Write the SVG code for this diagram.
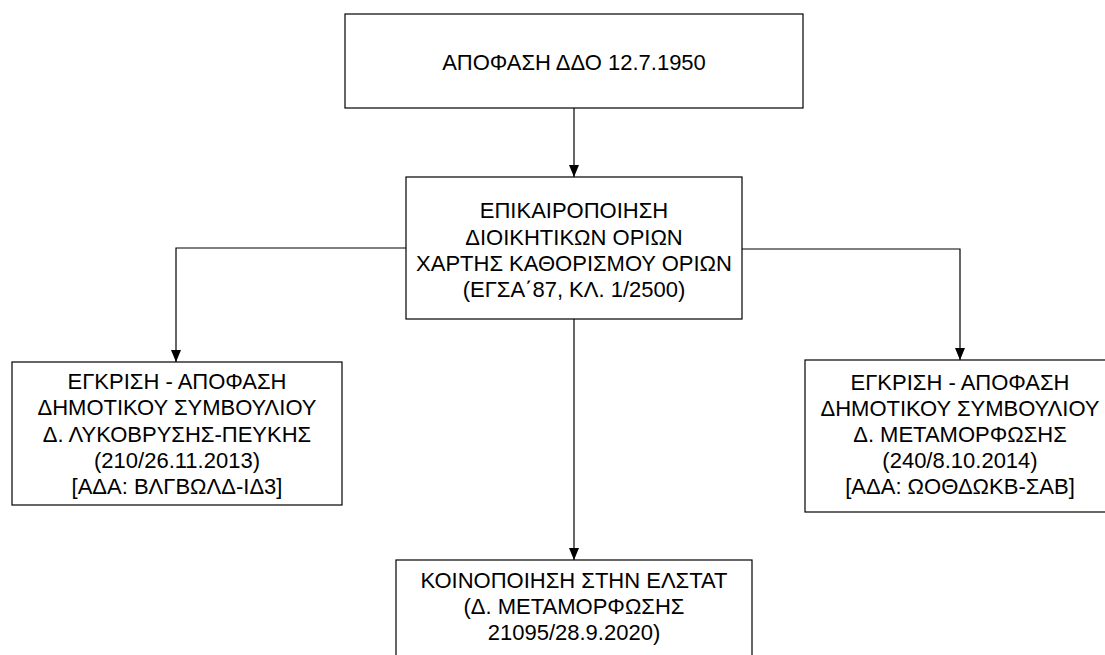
<svg xmlns="http://www.w3.org/2000/svg" width="1105" height="655" viewBox="0 0 1105 655">
<style>
.box{fill:#fff;stroke:#000;stroke-width:1.2}
.t{font-family:"Liberation Sans",Arial,sans-serif;font-size:22px;fill:#000;text-anchor:middle}
.c{fill:none;stroke:#000;stroke-width:1.2}
</style>
<defs>
<marker id="ah" viewBox="0 0 12 12" refX="12" refY="6" markerWidth="12" markerHeight="12" markerUnits="userSpaceOnUse" orient="auto">
<path d="M0,1 L12,6 L0,11 Z" fill="#000"/>
</marker>
</defs>
<rect width="1105" height="655" fill="#fff"/>
<g id="connectors">
<line class="c" x1="574" y1="108" x2="574" y2="177" marker-end="url(#ah)"/>
<polyline class="c" points="406,248 176,248 176,362" marker-end="url(#ah)"/>
<polyline class="c" points="742,249 960,249 960,360" marker-end="url(#ah)"/>
<line class="c" x1="574" y1="319" x2="574" y2="560" marker-end="url(#ah)"/>
</g>
<g id="n1">
<rect class="box" x="345" y="14" width="458" height="94"/>
<text class="t" x="574" y="70">ΑΠΟΦΑΣΗ ΔΔΟ 12.7.1950</text>
</g>
<g id="n2">
<rect class="box" x="406" y="177" width="336" height="142"/>
<text class="t" x="574" y="218">ΕΠΙΚΑΙΡΟΠΟΙΗΣΗ</text>
<text class="t" x="574" y="245">ΔΙΟΙΚΗΤΙΚΩΝ ΟΡΙΩΝ</text>
<text class="t" x="574" y="271">ΧΑΡΤΗΣ ΚΑΘΟΡΙΣΜΟΥ ΟΡΙΩΝ</text>
<text class="t" x="574" y="297">(ΕΓΣΑ΄87, ΚΛ. 1/2500)</text>
</g>
<g id="n3">
<rect class="box" x="12" y="362" width="330" height="143"/>
<text class="t" x="177" y="389">ΕΓΚΡΙΣΗ - ΑΠΟΦΑΣΗ</text>
<text class="t" x="177" y="415">ΔΗΜΟΤΙΚΟΥ ΣΥΜΒΟΥΛΙΟΥ</text>
<text class="t" x="177" y="442">Δ. ΛΥΚΟΒΡΥΣΗΣ-ΠΕΥΚΗΣ</text>
<text class="t" x="177" y="468">(210/26.11.2013)</text>
<text class="t" x="177" y="494">[ΑΔΑ: ΒΛΓΒΩΛΔ-ΙΔ3]</text>
</g>
<g id="n4">
<rect class="box" x="805" y="360" width="310" height="152"/>
<text class="t" x="960" y="390">ΕΓΚΡΙΣΗ - ΑΠΟΦΑΣΗ</text>
<text class="t" x="960" y="416">ΔΗΜΟΤΙΚΟΥ ΣΥΜΒΟΥΛΙΟΥ</text>
<text class="t" x="960" y="442">Δ. ΜΕΤΑΜΟΡΦΩΣΗΣ</text>
<text class="t" x="960" y="468">(240/8.10.2014)</text>
<text class="t" x="960" y="494">[ΑΔΑ: ΩΟΘΔΩΚΒ-ΣΑΒ]</text>
</g>
<g id="n5">
<rect class="box" x="396" y="560" width="356" height="120"/>
<text class="t" x="574" y="588">ΚΟΙΝΟΠΟΙΗΣΗ ΣΤΗΝ ΕΛΣΤΑΤ</text>
<text class="t" x="574" y="614">(Δ. ΜΕΤΑΜΟΡΦΩΣΗΣ</text>
<text class="t" x="574" y="640">21095/28.9.2020)</text>
</g>
</svg>
